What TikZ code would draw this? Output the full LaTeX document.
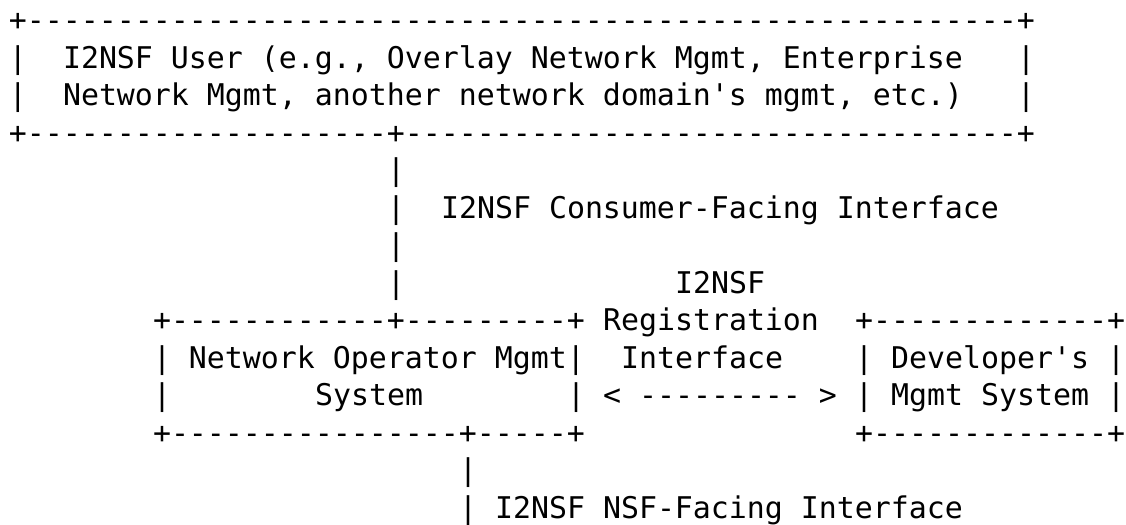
\documentclass[tikz,border=0pt]{standalone}
\usepackage{fontspec}
\setmonofont{DejaVu Sans Mono}
\ExplSyntaxOn
\cs_new:Npn \myrep #1#2 { \prg_replicate:nn {#1} {#2} }
\ExplSyntaxOff
\begin{document}
\begin{tikzpicture}[x=9pt,y=-18.75pt,
  asc/.style={anchor=base west, inner sep=0pt, outer sep=0pt,
    font=\ttfamily\fontsize{14.95}{18}\selectfont, text=black}]
\useasboundingbox (0,0) rectangle (62.556,14);
% row 1-4: user box
\node[asc] (r1)  at (0.5, 0.8133) {+\myrep{55}{-}+};
\node[asc] (r2a) at (0.5, 1.8133) {|};
\node[asc] (r2b) at (3.5, 1.8133) {I2NSF User (e.g., Overlay Network Mgmt, Enterprise};
\node[asc] (r2c) at (56.5, 1.8133) {|};
\node[asc] (r3a) at (0.5, 2.8133) {|};
\node[asc] (r3b) at (3.5, 2.8133) {Network Mgmt, another network domain's mgmt, etc.)};
\node[asc] (r3c) at (56.5, 2.8133) {|};
\node[asc] (r4)  at (0.5, 3.8133) {+\myrep{20}{-}+\myrep{34}{-}+};
% consumer-facing interface
\node[asc] (r5)  at (21.5, 4.8133) {|};
\node[asc] (r6a) at (21.5, 5.8133) {|};
\node[asc] (r6b) at (24.5, 5.8133) {I2NSF Consumer-Facing Interface};
\node[asc] (r7)  at (21.5, 6.8133) {|};
\node[asc] (r8a) at (21.5, 7.8133) {|};
\node[asc] (r8b) at (37.5, 7.8133) {I2NSF};
% operator and developer boxes
\node[asc] (r9a) at (8.5, 8.8133) {+\myrep{12}{-}+\myrep{9}{-}+};
\node[asc] (r9b) at (33.5, 8.8133) {Registration};
\node[asc] (r9c) at (47.5, 8.8133) {+\myrep{13}{-}+};
\node[asc] (r10a) at (8.5, 9.8133) {| Network Operator Mgmt|};
\node[asc] (r10b) at (34.5, 9.8133) {Interface};
\node[asc] (r10c) at (47.5, 9.8133) {| Developer's |};
\node[asc] (r11a) at (8.5, 10.8133) {|};
\node[asc] (r11b) at (17.5, 10.8133) {System};
\node[asc] (r11c) at (31.5, 10.8133) {|};
\node[asc] (r11d) at (33.5, 10.8133) {< \myrep{9}{-} >};
\node[asc] (r11e) at (47.5, 10.8133) {| Mgmt System |};
\node[asc] (r12a) at (8.5, 11.8133) {+\myrep{16}{-}+\myrep{5}{-}+};
\node[asc] (r12b) at (47.5, 11.8133) {+\myrep{13}{-}+};
% NSF-facing interface
\node[asc] (r13) at (25.5, 12.8133) {|};
\node[asc] (r14) at (25.5, 13.8133) {| I2NSF NSF-Facing Interface};
\end{tikzpicture}
\end{document}
